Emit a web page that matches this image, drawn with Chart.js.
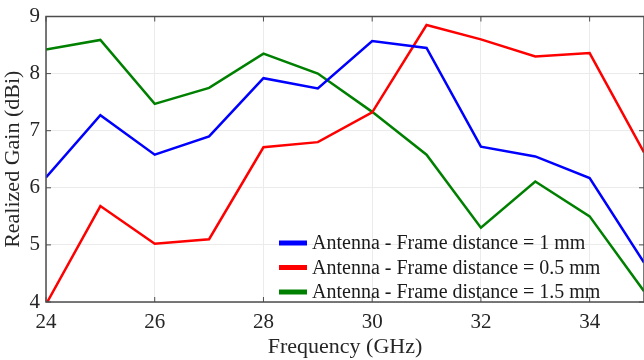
<!DOCTYPE html>
<html>
<head>
<meta charset="utf-8">
<script src="https://cdn.jsdelivr.net/npm/chart.js@4"></script>
<style>
  html, body { margin: 0; padding: 0; background: #fff; }
  #wrap { width: 644px; height: 360px; }
</style>
</head>
<body>
<div id="wrap"><canvas id="gain-chart"></canvas></div>
<script>
const freqs = [24, 25, 26, 27, 28, 29, 30, 31, 32, 33, 34, 35];
const gain1mm = [6.18, 7.27, 6.58, 6.9, 7.92, 7.74, 8.57, 8.45, 6.72, 6.55, 6.17, 4.69];
const gain05mm = [3.96, 5.68, 5.02, 5.1, 6.71, 6.8, 7.32, 8.85, 8.6, 8.3, 8.36, 6.62];
const gain15mm = [8.42, 8.59, 7.47, 7.75, 8.35, 8.0, 7.33, 6.58, 5.3, 6.11, 5.5, 4.19];
const seriesLabels = [
    "Antenna - Frame distance = 1 mm",
    "Antenna - Frame distance = 0.5 mm",
    "Antenna - Frame distance = 1.5 mm"
];

const serif = "'Liberation Serif', 'Times New Roman', serif";
const axisColor = "#4d4d4d";

function toPoints(vals) {
    return freqs.map((f, i) => ({ x: f, y: vals[i] }));
}

// box around plot + inward ticks + legend inside the plot
const boxPlugin = {
    id: "boxPlugin",
    afterDraw(chart) {
        const ctx = chart.ctx;
        const a = chart.chartArea;
        const xs = chart.scales.x, ys = chart.scales.y;
        ctx.save();
        ctx.strokeStyle = axisColor;
        ctx.lineWidth = 1.5;
        ctx.strokeRect(a.left, a.top, a.right - a.left, a.bottom - a.top);
        ctx.lineWidth = 1;
        xs.ticks.forEach(t => {
            const px = xs.getPixelForValue(t.value);
            ctx.beginPath();
            ctx.moveTo(px, a.bottom); ctx.lineTo(px, a.bottom - 5);
            ctx.moveTo(px, a.top); ctx.lineTo(px, a.top + 5);
            ctx.stroke();
        });
        ys.ticks.forEach(t => {
            const py = ys.getPixelForValue(t.value);
            ctx.beginPath();
            ctx.moveTo(a.left, py); ctx.lineTo(a.left + 5, py);
            ctx.moveTo(a.right, py); ctx.lineTo(a.right - 5, py);
            ctx.stroke();
        });

        // legend
        ctx.font = "20px " + serif;
        ctx.textBaseline = "middle";
        ctx.fillStyle = "#1a1a1a";
        chart.data.datasets.forEach((ds, i) => {
            const y = 243 + i * 24.5;
            ctx.strokeStyle = ds.borderColor;
            ctx.lineWidth = 5;
            ctx.beginPath();
            ctx.moveTo(279, y); ctx.lineTo(307, y);
            ctx.stroke();
            ctx.fillText(ds.label, 312, y + 1);
        });
        ctx.restore();
    }
};

new Chart(document.getElementById("gain-chart"), {
    type: "line",
    data: {
        datasets: [
            { label: seriesLabels[0], data: toPoints(gain1mm), borderColor: "#0000ff" },
            { label: seriesLabels[1], data: toPoints(gain05mm), borderColor: "#ff0000" },
            { label: seriesLabels[2], data: toPoints(gain15mm), borderColor: "#008000" }
        ]
    },
    options: {
        responsive: true,
        maintainAspectRatio: false,
        animation: false,
        elements: {
            line: { borderWidth: 2.5, tension: 0 },
            point: { radius: 0 }
        },
        layout: { padding: { top: 14, right: 0, left: 0, bottom: 0 } },
        scales: {
            x: {
                type: "linear",
                min: 24,
                max: 35,
                afterFit: s => { s.height = 58; },
                border: { display: false },
                grid: { color: "#ebebeb", drawTicks: false },
                ticks: {
                    stepSize: 2,
                    includeBounds: false,
                    padding: 8,
                    color: "#262626",
                    font: { family: serif, size: 21 }
                },
                title: {
                    display: true,
                    text: "Frequency (GHz)",
                    color: "#262626",
                    font: { family: serif, size: 22 },
                    padding: { top: 0, bottom: 0 }
                }
            },
            y: {
                min: 4,
                max: 9,
                afterFit: s => { s.width = 46; },
                border: { display: false },
                grid: { color: "#ebebeb", drawTicks: false },
                ticks: {
                    stepSize: 1,
                    padding: 6,
                    color: "#262626",
                    font: { family: serif, size: 21, lineHeight: 1 }
                },
                title: {
                    display: true,
                    text: "Realized Gain (dBi)",
                    color: "#262626",
                    font: { family: serif, size: 22 },
                    padding: { top: 0, bottom: 0 }
                }
            }
        },
        plugins: {
            legend: { display: false },
            tooltip: { enabled: false }
        }
    },
    plugins: [boxPlugin]
});
</script>
</body>
</html>
